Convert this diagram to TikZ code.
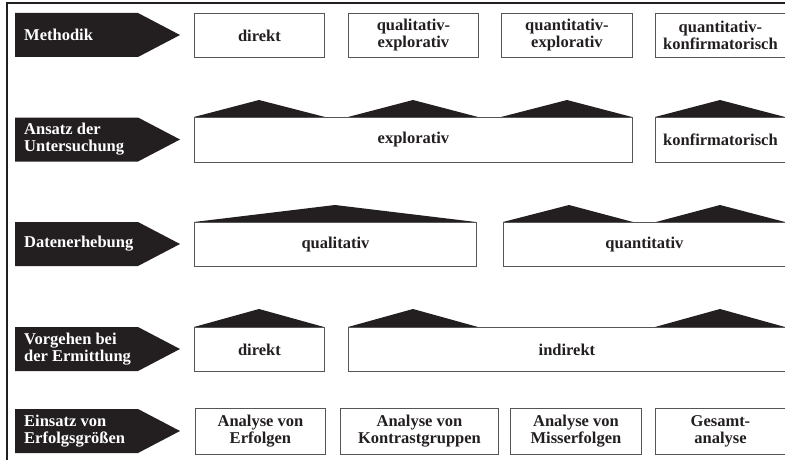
\documentclass[tikz,border=0pt]{standalone}
\usepackage{fontspec}
\setmainfont{Liberation Serif}
\definecolor{ink}{RGB}{35,31,32}
\definecolor{edge}{RGB}{85,85,85}
\newcommand{\tagshape}[1]{\fill[ink] (15,#1-22) -- (138,#1-22) -- (180,#1) -- (138,#1+22) -- (15,#1+22) -- cycle;}
\begin{document}
\begin{tikzpicture}[x=1pt,y=-1pt,
  txt/.style={font=\bfseries\fontsize{16.5}{17}\selectfont},
  box/.style={txt, draw=edge, line width=0.9pt, fill=white, text=ink, align=center, anchor=north west, inner sep=0pt},
  lbl/.style={txt, text=white, align=left, anchor=west, inner sep=0pt},
  roof/.style={fill=ink}]
\useasboundingbox (0,0) rectangle (785,460);
\draw[line width=1.2pt, ink] (7,460) -- (7,3) -- (785,3);

% label arrows
\tagshape{35}
\tagshape{139.5}
\tagshape{244}
\tagshape{349}
\tagshape{431}
\node[lbl] (l1) at (24,35) {Methodik};
\node[lbl] (l2) at (24,139.5) {Ansatz der\\Untersuchung};
\node[lbl] (l3) at (24,244) {Datenerhebung};
\node[lbl] (l4) at (24,349) {Vorgehen bei\\der Ermittlung};
\node[lbl] (l5) at (24,431) {Einsatz von\\Erfolgsgrößen};

% roofs
\fill[roof] (194,117) -- (259,100) -- (325,117) -- cycle;
\fill[roof] (348,117) -- (413,100) -- (478,117) -- cycle;
\fill[roof] (501,117) -- (567,100) -- (632,117) -- cycle;
\fill[roof] (655,117) -- (720,100) -- (785,117) -- cycle;
\fill[roof] (194,222) -- (335,205) -- (476,222) -- cycle;
\fill[roof] (503,222) -- (569,205) -- (633,222) -- cycle;
\fill[roof] (656,222) -- (720,205) -- (785,222) -- cycle;
\fill[roof] (194,327) -- (259,309) -- (324,327) -- cycle;
\fill[roof] (348,327) -- (413,309) -- (478,327) -- cycle;
\fill[roof] (655,327) -- (720,309) -- (785,327) -- cycle;

% row 1
\node[box, minimum width=130, minimum height=44] (m1) at (194,13) {direkt};
\node[box, minimum width=130, minimum height=44] (m2) at (348,13) {qualitativ-\\explorativ};
\node[box, minimum width=131, minimum height=44] (m3) at (501,13) {quantitativ-\\explorativ};
\node[box, minimum width=130, minimum height=44] (m4) at (655,13) {quantitativ-\\konfirmatorisch};
% row 2
\node[box, minimum width=438, minimum height=45] (a1) at (194,117) {explorativ};
\node[box, minimum width=130, minimum height=45] (a2) at (655,117) {konfirmatorisch};
% row 3
\node[box, minimum width=282, minimum height=44] (d1) at (194,222) {qualitativ};
\node[box, minimum width=282, minimum height=44] (d2) at (503,222) {quantitativ};
% row 4
\node[box, minimum width=130, minimum height=44] (v1) at (194,327) {direkt};
\node[box, minimum width=437, minimum height=44] (v2) at (348,327) {indirekt};
% row 5
\node[box, minimum width=130, minimum height=46] (e1) at (195,408) {Analyse von\\Erfolgen};
\node[box, minimum width=158, minimum height=46] (e2) at (340,408) {Analyse von\\Kontrastgruppen};
\node[box, minimum width=131, minimum height=46] (e3) at (510,408) {Analyse von\\Misserfolgen};
\node[box, minimum width=130, minimum height=46] (e4) at (655,408) {Gesamt-\\analyse};
\end{tikzpicture}
\end{document}
